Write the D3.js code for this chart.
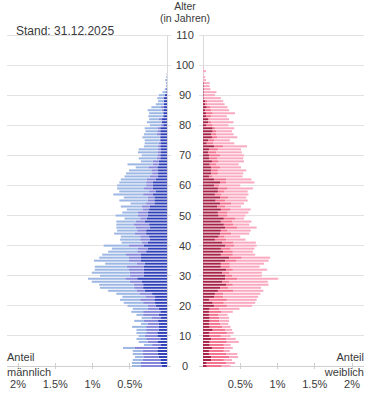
<!DOCTYPE html>
<html><head><meta charset="utf-8">
<script src="https://cdn.jsdelivr.net/npm/d3@7"></script>
<style>
html,body{margin:0;padding:0;background:#fff;}
svg text{font-family:"Liberation Sans",Arial,sans-serif;fill:#3a3a3a;}
</style></head>
<body><svg id="c" width="375" height="416"></svg>
<script>
// ages 0..99, values in % of population
const ages = d3.range(0, 100);
const maleDark = [0.07,0.09,0.09,0.11,0.12,0.13,0.12,0.08,0.13,0.09, 0.13,0.13,0.11,0.11,0.11,0.12,0.08,0.11,0.09,0.11, 0.15,0.16,0.17,0.16,0.20,0.30,0.32,0.32,0.34,0.40, 0.31,0.31,0.31,0.31,0.30,0.35,0.35,0.35,0.28,0.26, 0.31,0.26,0.23,0.24,0.28,0.28,0.23,0.24,0.30,0.27, 0.26,0.26,0.24,0.23,0.17,0.17,0.17,0.19,0.15,0.19, 0.19,0.19,0.15,0.12,0.12,0.12,0.13,0.11,0.11,0.09, 0.09,0.08,0.08,0.09,0.08,0.09,0.09,0.09,0.09,0.09, 0.05,0.07,0.07,0.05,0.05,0.04,0.04,0.04,0.04,0.04, 0.03,0.01,0.01,0.005,0.005,0.005,0,0,0,0];
const maleMid = [0.28,0.26,0.24,0.20,0.21,0.20,0.31,0.12,0.13,0.19, 0.17,0.15,0.17,0.17,0.15,0.19,0.13,0.21,0.23,0.15, 0.11,0.16,0.19,0.13,0.17,0.11,0.12,0.13,0.16,0.16, 0.19,0.19,0.20,0.23,0.11,0.16,0.16,0.20,0.12,0.13, 0.20,0.08,0.13,0.12,0.15,0.12,0.19,0.21,0.12,0.09, 0.13,0.13,0.09,0.11,0.11,0.09,0.09,0.13,0.09,0.12, 0.09,0.09,0.12,0.11,0.08,0.09,0.12,0.08,0.08,0.05, 0.04,0.05,0.04,0.03,0.03,0.01,0.01,0.05,0.04,0.04, 0.03,0,0.04,0,0,0.03,0.04,0,0,0.01, 0,0,0,0,0,0,0,0,0,0];
const maleLight = [0.12,0.12,0.13,0.12,0.13,0.13,0.16,0.11,0.12,0.13, 0.08,0.13,0.13,0.19,0.09,0.13,0.13,0.09,0.16,0.20, 0.27,0.26,0.27,0.31,0.31,0.38,0.46,0.46,0.51,0.50, 0.40,0.51,0.46,0.43,0.42,0.47,0.40,0.32,0.39,0.35, 0.34,0.27,0.27,0.26,0.28,0.27,0.26,0.23,0.26,0.21, 0.30,0.21,0.21,0.28,0.21,0.38,0.32,0.40,0.40,0.36, 0.39,0.36,0.35,0.34,0.35,0.30,0.17,0.34,0.16,0.24, 0.21,0.26,0.26,0.19,0.19,0.20,0.23,0.17,0.16,0.17, 0.15,0.20,0.13,0.20,0.19,0.19,0.13,0.11,0.08,0.08, 0.08,0.05,0.02,0.01,0.01,0.02,0.01,0.005,0,0];
const femaleDark = [0.05,0.05,0.11,0.11,0.08,0.08,0.12,0.09,0.09,0.11, 0.09,0.08,0.13,0.09,0.08,0.09,0.09,0.08,0.08,0.09, 0.15,0.13,0.08,0.15,0.16,0.20,0.23,0.31,0.26,0.30, 0.30,0.26,0.31,0.24,0.24,0.30,0.35,0.24,0.27,0.24, 0.30,0.26,0.16,0.21,0.23,0.24,0.30,0.28,0.24,0.28, 0.21,0.20,0.24,0.19,0.23,0.17,0.23,0.16,0.20,0.20, 0.15,0.23,0.15,0.08,0.11,0.11,0.11,0.09,0.12,0.08, 0.08,0.07,0.08,0.15,0.05,0.07,0.12,0.11,0.13,0.13, 0.04,0.07,0.07,0.04,0.04,0.03,0.05,0.03,0.03,0.01, 0.01,0.01,0.01,0.01,0.01,0,0,0,0,0];
const femaleMid = [0.20,0.26,0.17,0.24,0.23,0.20,0.17,0.19,0.23,0.20, 0.15,0.24,0.17,0.17,0.15,0.13,0.13,0.13,0.17,0.13, 0.17,0.15,0.24,0.12,0.11,0.21,0.11,0.09,0.09,0.16, 0.09,0.09,0.09,0.12,0.12,0.15,0.17,0.16,0.13,0.13, 0.12,0.15,0.15,0.08,0.15,0.09,0.16,0.13,0.15,0.15, 0.12,0.13,0.13,0.11,0.15,0.13,0.11,0.09,0.09,0.13, 0.07,0.08,0.16,0.05,0.09,0.09,0.12,0.09,0.09,0.11, 0.15,0.11,0.12,0.12,0.09,0.08,0.07,0.07,0.05,0.03, 0.09,0.04,0.01,0.07,0.09,0.08,0.05,0.03,0.03,0, 0,0,0,0,0,0,0,0,0,0];
const femaleLight = [0.12,0.12,0.11,0.12,0.15,0.08,0.11,0.09,0.16,0.13, 0.13,0.09,0.09,0.11,0.11,0.13,0.13,0.12,0.15,0.27, 0.34,0.42,0.40,0.47,0.50,0.40,0.44,0.48,0.52,0.55, 0.40,0.44,0.46,0.40,0.46,0.43,0.38,0.30,0.27,0.32, 0.30,0.30,0.26,0.21,0.24,0.31,0.26,0.21,0.26,0.12, 0.24,0.28,0.27,0.21,0.17,0.30,0.24,0.36,0.31,0.34, 0.28,0.38,0.34,0.40,0.34,0.38,0.28,0.30,0.34,0.35, 0.32,0.34,0.31,0.32,0.28,0.21,0.27,0.23,0.21,0.26, 0.21,0.30,0.27,0.21,0.30,0.24,0.23,0.23,0.21,0.23, 0.15,0.17,0.09,0.08,0.08,0.04,0.03,0.01,0.04,0.01];
const ageTicks = d3.range(0, 111, 10);
const shareTicks = [0.5, 1, 1.5, 2];
const shareTickLabels = ["0.5%", "1%", "1.5%", "2%"];
const maleColors = ["#3040b8", "#8585da", "#9db7e4"];
const femaleColors = ["#a82348", "#f2728f", "#f9aac0"];

const svg = d3.select("#c");
const y = d3.scaleLinear().domain([0, 110]).range([366, 35]);
const xM = d3.scaleLinear().domain([0, 2]).range([167, 18]);
const xF = d3.scaleLinear().domain([0, 2]).range([203, 352]);

// gridlines
const g = svg.append("g");
g.selectAll("line.gl").data(ageTicks).join("line")
  .attr("x1", 7).attr("x2", 171).attr("y1", d => y(d)).attr("y2", d => y(d))
  .attr("stroke", d => d === 0 ? "#cfcfcf" : "#e2e2e2").attr("stroke-width", 1).attr("shape-rendering", "crispEdges");
g.selectAll("line.gr").data(ageTicks).join("line")
  .attr("x1", 199).attr("x2", 364).attr("y1", d => y(d)).attr("y2", d => y(d))
  .attr("stroke", d => d === 0 ? "#cfcfcf" : "#e2e2e2").attr("stroke-width", 1).attr("shape-rendering", "crispEdges");
[xM(0), xF(0)].forEach(x => {
  g.append("line").attr("x1", x).attr("x2", x).attr("y1", y(110)).attr("y2", y(0))
    .attr("stroke", "#dadada").attr("shape-rendering", "crispEdges");
});

function stackSide(dark, mid, light, xs, colors) {
  const rows = ages.map((a, i) => ({age: a, v: [dark[i], mid[i], light[i]]}));
  const grp = svg.append("g");
  [0, 1, 2].forEach(k => {
    grp.selectAll(null).data(rows).join("rect")
      .attr("x", d => { const s0 = d3.sum(d.v.slice(0, k)), s1 = s0 + d.v[k]; return Math.min(xs(s0), xs(s1)); })
      .attr("width", d => { const s0 = d3.sum(d.v.slice(0, k)), s1 = s0 + d.v[k]; return Math.abs(xs(s1) - xs(s0)); })
      .attr("y", d => y(d.age) - 1)
      .attr("height", 2)
      .attr("fill", colors[k]);
  });
}
stackSide(maleDark, maleMid, maleLight, xM, maleColors);
stackSide(femaleDark, femaleMid, femaleLight, xF, femaleColors);

// x ticks
shareTicks.forEach(t => {
  [xM(t), xF(t)].forEach(x => {
    svg.append("line").attr("x1", x).attr("x2", x).attr("y1", 363).attr("y2", 369)
      .attr("stroke", "#cfcfcf").attr("shape-rendering", "crispEdges");
  });
});
svg.selectAll("text.xl").data(shareTicks).join("text")
  .attr("x", d => xM(d)).attr("y", 388).attr("text-anchor", "middle")
  .attr("font-size", 11).text((d, i) => shareTickLabels[i]);
svg.selectAll("text.xr").data(shareTicks).join("text")
  .attr("x", d => xF(d)).attr("y", 388).attr("text-anchor", "middle")
  .attr("font-size", 11).text((d, i) => shareTickLabels[i]);

// age labels
svg.selectAll("text.age").data(ageTicks).join("text")
  .attr("x", 185).attr("y", d => y(d) + 4).attr("text-anchor", "middle")
  .attr("font-size", 11).text(d => d);

// titles
svg.append("text").attr("x", 185).attr("y", 10).attr("text-anchor", "middle").attr("font-size", 10.5).text("Alter");
svg.append("text").attr("x", 185).attr("y", 22).attr("text-anchor", "middle").attr("font-size", 10.5).text("(in Jahren)");
svg.append("text").attr("x", 16).attr("y", 35).attr("font-size", 12).text("Stand: 31.12.2025");
svg.append("text").attr("x", 7).attr("y", 361).attr("font-size", 11).text("Anteil");
svg.append("text").attr("x", 7).attr("y", 376).attr("font-size", 11).text("männlich");
svg.append("text").attr("x", 364).attr("y", 361).attr("text-anchor", "end").attr("font-size", 11).text("Anteil");
svg.append("text").attr("x", 364).attr("y", 376).attr("text-anchor", "end").attr("font-size", 11).text("weiblich");
</script></body></html>
